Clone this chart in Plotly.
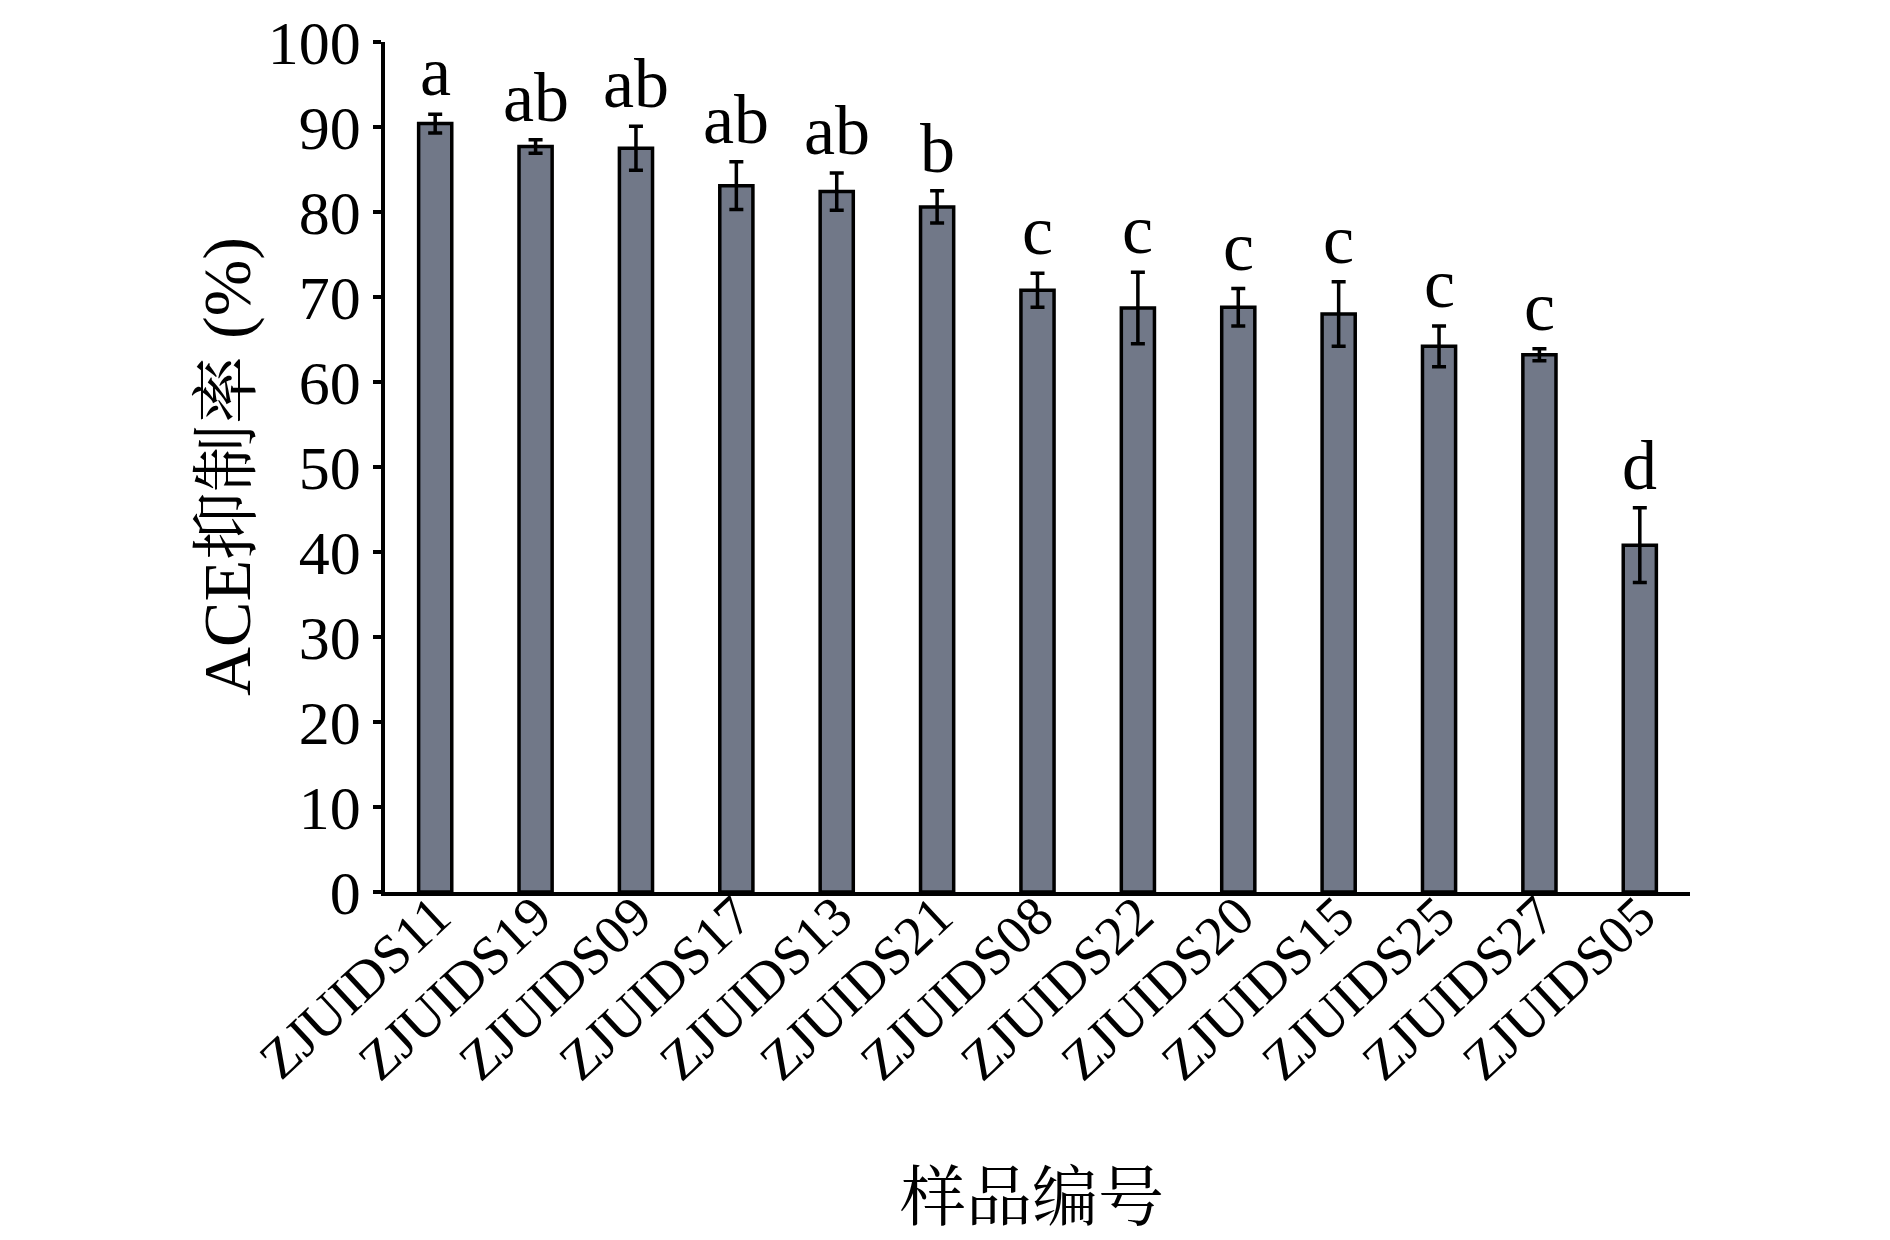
import plotly.graph_objects as go

categories = ["ZJUIDS11", "ZJUIDS19", "ZJUIDS09", "ZJUIDS17", "ZJUIDS13", "ZJUIDS21",
              "ZJUIDS08", "ZJUIDS22", "ZJUIDS20", "ZJUIDS15", "ZJUIDS25", "ZJUIDS27", "ZJUIDS05"]
values = [90.4, 87.7, 87.5, 83.1, 82.4, 80.6, 70.8, 68.7, 68.8, 68.0, 64.2, 63.2, 40.8]
errors = [1.1, 0.8, 2.6, 2.8, 2.2, 1.9, 2.0, 4.2, 2.2, 3.8, 2.4, 0.7, 4.4]
letters = ["a", "ab", "ab", "ab", "ab", "b", "c", "c", "c", "c", "c", "c", "d"]
y_ticks = [0, 10, 20, 30, 40, 50, 60, 70, 80, 90, 100]

FONT = "Liberation Serif, Times New Roman, Noto Serif CJK SC, Noto Sans CJK SC, serif"

fig = go.Figure()
fig.add_trace(go.Bar(
    x=categories, y=values,
    marker=dict(color="#717888", line=dict(color="black", width=3.5)),
    error_y=dict(type="data", array=errors, visible=True, color="black",
                 thickness=3.5, width=7),
    showlegend=False,
))

annotations = []
for c, v, e, t in zip(categories, values, errors, letters):
    annotations.append(dict(x=c, y=v + e, xref="x", yref="y", text=t, showarrow=False,
                            yanchor="bottom", yshift=2,
                            font=dict(family=FONT, size=70, color="black")))

annotations.append(dict(x=0, y=0.5, xref="paper", yref="paper", text="ACE抑制率 (%)",
                        showarrow=False, textangle=-90, xanchor="center", yanchor="middle",
                        xshift=-158, font=dict(family=FONT, size=68, color="black")))
annotations.append(dict(x=0.5, y=0, xref="paper", yref="paper", text="样品编号",
                        showarrow=False, xanchor="center", yanchor="middle",
                        xshift=-6, yshift=-305, font=dict(family=FONT, size=66, color="black")))

fig.update_layout(
    width=1890, height=1240,
    margin=dict(l=377, r=208, t=34, b=356, autoexpand=False),
    paper_bgcolor="white", plot_bgcolor="white",
    bargap=0.67,
    annotations=annotations,
    font=dict(family=FONT, color="black"),
)
fig.update_xaxes(
    showline=True, linecolor="black", linewidth=3.5,
    ticks="", tickangle=-43, showgrid=False, zeroline=False, automargin=False,
    ticklabelstandoff=-34, ticklabeloverflow="allow",
    tickfont=dict(family=FONT, size=55, color="black"),
)
fig.update_yaxes(
    range=[0, 100], tickvals=y_ticks, showline=True, linecolor="black", linewidth=3.5,
    ticks="outside", ticklen=8, tickwidth=3.5, tickcolor="black",
    showgrid=False, zeroline=False, automargin=False, ticklabeloverflow="allow",
    tickfont=dict(family=FONT, size=62, color="black"),
)

fig.write_html("out.html")
